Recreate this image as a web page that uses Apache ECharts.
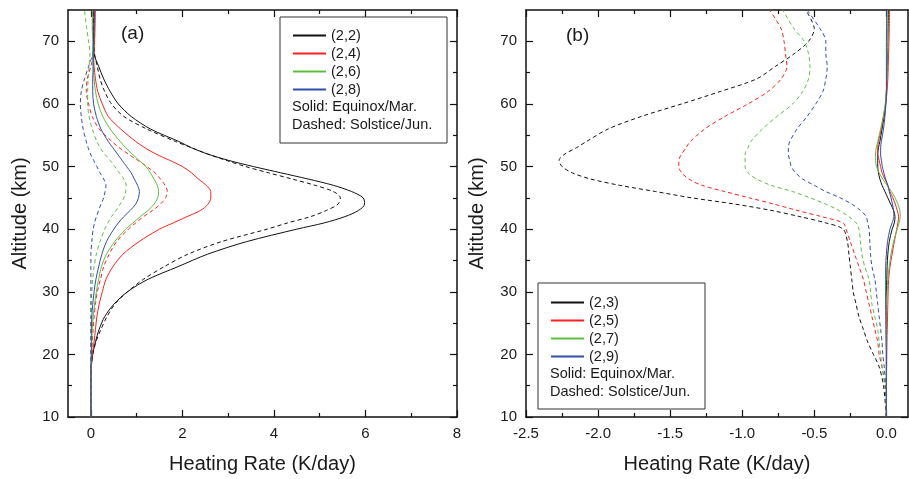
<!DOCTYPE html>
<html>
<head>
<meta charset="utf-8">
<script src="https://cdn.jsdelivr.net/npm/echarts@6/dist/echarts.min.js"></script>
<style>
  html, body { margin: 0; padding: 0; background: #fff; }
  #main { width: 909px; height: 479px; }
</style>
</head>
<body>
<div id="main"></div>
<script>
var chartDom = document.getElementById('main');
var myChart = echarts.init(chartDom);
var option;

// altitude grid (km), shared by all curves
var alt = [10, 15, 18, 20, 22, 24, 26, 28, 30, 32, 34, 36, 38, 40, 41, 42, 43, 44, 45, 46,
           47, 48, 49, 50, 51, 52, 53, 54, 56, 58, 60, 62, 64, 66, 68, 70, 72, 75];

// panel (a): even modes, K/day
var a22Eq  = [0, 0, 0.01, 0.04, 0.1, 0.18, 0.3, 0.5, 0.8, 1.25, 1.9, 2.55, 3.4, 4.5, 5.1, 5.55, 5.85, 5.98, 5.95, 5.7,
              5.3, 4.75, 4.15, 3.55, 3.0, 2.55, 2.2, 1.92, 1.3, 0.88, 0.6, 0.42, 0.28, 0.17, 0.07, 0.06, 0.05, 0.05];
var a22Sol = [0, 0, 0.01, 0.04, 0.11, 0.22, 0.35, 0.52, 0.8, 1.15, 1.6, 2.12, 2.85, 3.85, 4.3, 4.8, 5.15, 5.4, 5.45, 5.3,
              4.9, 4.4, 3.88, 3.38, 2.95, 2.55, 2.2, 1.85, 1.22, 0.72, 0.45, 0.3, 0.2, 0.14, 0.08, 0.06, 0.05, 0.05];
var a24Eq  = [0, 0, 0.01, 0.03, 0.07, 0.1, 0.13, 0.18, 0.25, 0.33, 0.48, 0.7, 1.05, 1.5, 1.8, 2.1, 2.4, 2.56, 2.62, 2.62,
              2.52, 2.35, 2.2, 2.0, 1.72, 1.42, 1.18, 0.98, 0.65, 0.38, 0.25, 0.15, 0.1, 0.07, 0.06, 0.08, 0.09, 0.1];
var a24Sol = [0, 0, 0.01, 0.02, 0.03, 0.05, 0.07, 0.1, 0.14, 0.21, 0.28, 0.4, 0.56, 0.82, 0.98, 1.15, 1.35, 1.52, 1.63, 1.67,
              1.62, 1.52, 1.4, 1.22, 1.02, 0.82, 0.62, 0.46, 0.18, 0.03, -0.05, -0.1, -0.08, 0.0, 0.06, 0.08, 0.08, 0.08];
var a26Eq  = [0, 0, 0, 0.01, 0.02, 0.03, 0.05, 0.08, 0.12, 0.17, 0.23, 0.34, 0.52, 0.76, 0.92, 1.08, 1.25, 1.38, 1.46, 1.48,
              1.45, 1.38, 1.3, 1.2, 1.05, 0.9, 0.76, 0.64, 0.42, 0.26, 0.16, 0.1, 0.07, 0.05, 0.04, 0.04, 0.03, 0.03];
var a26Sol = [0, 0, 0, 0, 0, 0, 0.01, 0.01, 0.02, 0.04, 0.07, 0.12, 0.2, 0.3, 0.37, 0.45, 0.55, 0.64, 0.72, 0.76,
              0.77, 0.72, 0.62, 0.52, 0.42, 0.3, 0.2, 0.13, 0.03, -0.04, -0.07, -0.07, -0.06, -0.04, -0.02, -0.05, -0.09, -0.14];
var a28Eq  = [0, 0, 0, 0.01, 0.01, 0.01, 0.02, 0.04, 0.07, 0.11, 0.17, 0.24, 0.34, 0.5, 0.6, 0.72, 0.86, 0.98, 1.04, 1.06,
              1.02, 0.95, 0.88, 0.78, 0.68, 0.58, 0.48, 0.38, 0.22, 0.12, 0.06, 0.04, 0.04, 0.05, 0.05, 0.06, 0.07, 0.08];
var a28Sol = [0, 0, 0, 0, 0, 0, 0, 0, 0, 0, 0, 0, 0.02, 0.05, 0.08, 0.12, 0.17, 0.22, 0.28, 0.31,
              0.33, 0.28, 0.2, 0.13, 0.06, -0.01, -0.06, -0.1, -0.17, -0.21, -0.23, -0.21, -0.14, -0.05, 0.04, 0.06, 0.07, 0.08];

// panel (b): odd modes, K/day
var b23Eq  = [0, 0, 0, 0, 0, 0, 0, 0, 0, 0.003, 0.005, 0.01, 0.02, 0.04, 0.055, 0.06, 0.05, 0.03, 0.01, -0.01,
              -0.03, -0.045, -0.055, -0.06, -0.06, -0.06, -0.055, -0.045, -0.03, -0.015, -0.005, 0, 0.003, 0.006, 0.008, 0.01, 0.012, 0.015];
var b23Sol = [0, -0.02, -0.05, -0.09, -0.13, -0.16, -0.19, -0.21, -0.23, -0.24, -0.25, -0.26, -0.27, -0.3, -0.42, -0.6, -0.8, -1.05, -1.35, -1.6,
              -1.85, -2.05, -2.18, -2.25, -2.27, -2.23, -2.15, -2.08, -1.93, -1.7, -1.42, -1.15, -0.9, -0.77, -0.64, -0.54, -0.5, -0.56];
var b25Eq  = [0, 0, 0.002, 0.003, 0.004, 0.006, 0.008, 0.01, 0.012, 0.016, 0.025, 0.04, 0.055, 0.072, 0.08, 0.085, 0.075, 0.062, 0.045, 0.025,
              0.01, -0.01, -0.03, -0.04, -0.05, -0.06, -0.06, -0.055, -0.035, -0.02, -0.005, 0.005, 0.01, 0.013, 0.015, 0.018, 0.02, 0.022];
var b25Sol = [0, -0.01, -0.03, -0.05, -0.06, -0.08, -0.1, -0.12, -0.14, -0.16, -0.19, -0.22, -0.25, -0.28, -0.3, -0.45, -0.62, -0.78, -0.95, -1.12,
              -1.28, -1.37, -1.42, -1.44, -1.44, -1.42, -1.39, -1.36, -1.26, -1.12, -0.96, -0.82, -0.73, -0.69, -0.7, -0.71, -0.73, -0.81];
var b27Eq  = [0, 0, 0, 0, 0, 0, 0, 0, 0.005, 0.01, 0.02, 0.032, 0.05, 0.075, 0.088, 0.096, 0.093, 0.08, 0.06, 0.035,
              0.005, -0.025, -0.05, -0.068, -0.075, -0.075, -0.07, -0.06, -0.04, -0.022, -0.008, 0, 0.003, 0.005, 0.006, 0.008, 0.009, 0.01];
var b27Sol = [0, -0.01, -0.03, -0.04, -0.05, -0.06, -0.08, -0.1, -0.11, -0.12, -0.15, -0.17, -0.18, -0.19, -0.21, -0.26, -0.33, -0.42, -0.53, -0.65,
              -0.8, -0.9, -0.96, -0.98, -0.98, -0.98, -0.96, -0.94, -0.86, -0.76, -0.65, -0.58, -0.54, -0.53, -0.54, -0.57, -0.64, -0.72];
var b29Eq  = [0, 0, 0, 0, -0.002, -0.003, -0.004, -0.005, -0.005, -0.005, -0.005, 0, 0.008, 0.025, 0.04, 0.052, 0.05, 0.042, 0.032, 0.02,
              0.01, -0.005, -0.018, -0.028, -0.035, -0.04, -0.04, -0.035, -0.02, -0.01, -0.003, 0, 0, 0, 0, 0, 0.001, 0.002];
var b29Sol = [0, -0.005, -0.015, -0.025, -0.03, -0.04, -0.05, -0.06, -0.07, -0.08, -0.1, -0.11, -0.115, -0.12, -0.13, -0.14, -0.18, -0.24, -0.32, -0.42,
              -0.5, -0.58, -0.63, -0.66, -0.67, -0.68, -0.68, -0.67, -0.62, -0.55, -0.49, -0.44, -0.42, -0.41, -0.42, -0.42, -0.46, -0.55];

// tick labels
var aTicks = [0, 2, 4, 6, 8];
var aMinor = [1, 3, 5, 7];
var bTicks = [-2.5, -2.0, -1.5, -1.0, -0.5, 0.0];
var bMinor = [-2.25, -1.75, -1.25, -0.75, -0.25];
var yTicks = [10, 20, 30, 40, 50, 60, 70];
var yMinor = [15, 25, 35, 45, 55, 65];

var namesA = ['(2,2)', '(2,4)', '(2,6)', '(2,8)'];
var namesB = ['(2,3)', '(2,5)', '(2,7)', '(2,9)'];
var colors = ['#111111', '#ff2020', '#5cbf3c', '#2f50ab'];

var FONT = 'Liberation Sans';
var TXT = '#1a1a1a';

function pairs(vals) {
    return vals.map(function (v, i) { return [v, alt[i]]; });
}

function line(name, vals, color, dashed, idx) {
    return {
        type: 'line',
        name: name,
        xAxisIndex: idx * 4,
        yAxisIndex: idx * 4,
        data: pairs(vals),
        symbol: 'none',
        smooth: 0.3,
        lineStyle: { color: color, width: 1, type: dashed ? [4, 3] : 'solid' },
        itemStyle: { color: color },
        z: dashed ? 2 : 3
    };
}

var seriesList = [];
[a22Eq, a24Eq, a26Eq, a28Eq].forEach(function (d, i) {
    seriesList.push(line(namesA[i], d, colors[i], false, 0));
});
[a22Sol, a24Sol, a26Sol, a28Sol].forEach(function (d, i) {
    seriesList.push(line(namesA[i] + ' Jun', d, colors[i], true, 0));
});
[b23Eq, b25Eq, b27Eq, b29Eq].forEach(function (d, i) {
    seriesList.push(line(namesB[i], d, colors[i], false, 1));
});
[b23Sol, b25Sol, b27Sol, b29Sol].forEach(function (d, i) {
    seriesList.push(line(namesB[i] + ' Jun', d, colors[i], true, 1));
});

// four axes per side pair: main (line, labels, major ticks), minor ticks, mirror major, mirror minor
function axes(grid, min, max, majors, minors, fmt, name, gap, sides) {
    var lbl = { fontFamily: FONT, fontSize: 15, color: TXT, margin: 9, customValues: majors, formatter: fmt };
    var base = { type: 'value', gridIndex: grid, min: min, max: max, splitLine: { show: false } };
    var aline = { show: true, onZero: false, lineStyle: { color: '#111', width: 1.5 } };
    var noLine = { show: false, onZero: false };
    var tk = { color: '#111', width: 1.2 };
    var out = [];
    out.push(Object.assign({}, base, {
        position: sides[0], axisLine: aline, axisLabel: lbl,
        axisTick: { show: true, inside: true, length: 7, customValues: majors, lineStyle: tk },
        name: name, nameLocation: 'middle', nameGap: gap,
        nameTextStyle: { fontFamily: FONT, fontSize: 20, color: TXT }
    }));
    out.push(Object.assign({}, base, {
        position: sides[0], axisLine: noLine, axisLabel: { show: false },
        axisTick: { show: true, inside: true, length: 4, customValues: minors, lineStyle: tk }
    }));
    out.push(Object.assign({}, base, {
        position: sides[1], axisLine: aline, axisLabel: { show: false },
        axisTick: { show: true, inside: true, length: 7, customValues: majors, lineStyle: tk }
    }));
    out.push(Object.assign({}, base, {
        position: sides[1], axisLine: noLine, axisLabel: { show: false },
        axisTick: { show: true, inside: true, length: 4, customValues: minors, lineStyle: tk }
    }));
    return out;
}

var xAxes = axes(0, -0.5, 8, aTicks, aMinor, function (v) { return String(v); },
                 'Heating Rate (K/day)', 37, ['bottom', 'top'])
    .concat(axes(1, -2.5, 0.15, bTicks, bMinor, function (v) { return v.toFixed(1); },
                 'Heating Rate (K/day)', 37, ['bottom', 'top']));
var yAxes = axes(0, 10, 75, yTicks, yMinor, function (v) { return String(v); },
                 'Altitude (km)', 38, ['left', 'right'])
    .concat(axes(1, 10, 75, yTicks, yMinor, function (v) { return String(v); },
                 'Altitude (km)', 39, ['left', 'right']));
yAxes.forEach(function (a) { if (a.name) a.nameRotate = 90; });

function legendOf(names, left, top) {
    return {
        data: names, orient: 'vertical', left: left, top: top, padding: 0,
        itemWidth: 33, itemHeight: 14, itemGap: 3,
        itemStyle: { opacity: 0 },
        textStyle: { fontFamily: FONT, fontSize: 14.5, color: TXT },
        selectedMode: false
    };
}

function note(left, top, text) {
    return { type: 'text', left: left, top: top, z: 20, style: { text: text, fontFamily: FONT, fontSize: 14.5, fill: TXT } };
}

option = {
    animation: false,
    backgroundColor: '#fff',
    grid: [
        { left: 68, top: 10, width: 389, height: 408 },
        { left: 526, top: 10, width: 382, height: 408 }
    ],
    xAxis: xAxes,
    yAxis: yAxes,
    legend: [legendOf(namesA, 292, 28), legendOf(namesB, 550, 295)],
    graphic: [
        { type: 'rect', shape: { x: 280, y: 17, width: 167, height: 126 }, style: { fill: 'none', stroke: '#333', lineWidth: 1 }, z: 10 },
        { type: 'rect', shape: { x: 538, y: 283, width: 167, height: 126 }, style: { fill: 'none', stroke: '#333', lineWidth: 1 }, z: 10 },
        note(292, 99, 'Solid: Equinox/Mar.'),
        note(292, 117, 'Dashed: Solstice/Jun.'),
        note(550, 366, 'Solid: Equinox/Mar.'),
        note(550, 384, 'Dashed: Solstice/Jun.'),
        { type: 'text', left: 121, top: 24, style: { text: '(a)', fontFamily: FONT, fontSize: 19, fill: TXT } },
        { type: 'text', left: 566, top: 26, style: { text: '(b)', fontFamily: FONT, fontSize: 19, fill: TXT } }
    ],
    series: seriesList
};

option && myChart.setOption(option);
</script>
</body>
</html>
